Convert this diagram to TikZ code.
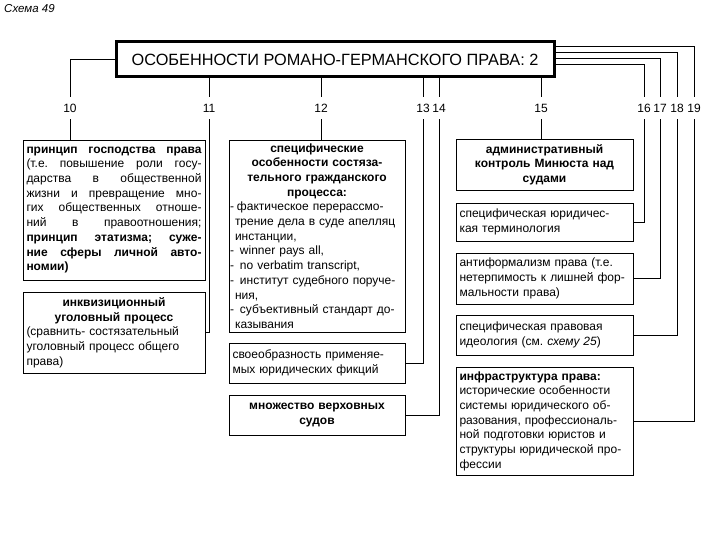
\documentclass[tikz,border=0pt]{standalone}
\usepackage{fontspec}
\setmainfont{Liberation Sans}
\frenchspacing
\begin{document}
\begin{tikzpicture}[x=1pt,y=-1pt,
  bx/.style={draw, line width=0.8pt, inner xsep=3.5pt, inner ysep=2pt,
    font=\fontsize{12}{14.7}\selectfont},
  lbl/.style={inner sep=0pt, minimum height=22pt, font=\fontsize{12}{13}\selectfont},
  ln/.style={line width=0.8pt}]
\useasboundingbox (0,0) rectangle (720,540);
\node[anchor=west, inner sep=0pt, font=\fontsize{11.5}{13}\selectfont\itshape] (cap) at (4,9) {Схема 49};
\node[draw, line width=3pt, minimum width=438pt, minimum height=35pt, inner sep=0pt,
  font=\fontsize{16.3}{18}\selectfont] (title) at (335,59.5) {ОСОБЕННОСТИ РОМАНО-ГЕРМАНСКОГО ПРАВА: 2};
% labels
\node[lbl] (l10) at (70,108) {10};
\node[lbl] (l11) at (209,108) {11};
\node[lbl] (l12) at (321,108) {12};
\node[lbl] (l13) at (423,108) {13};
\node[lbl] (l14) at (439,108) {14};
\node[lbl] (l15) at (541,108) {15};
\node[lbl] (l16) at (644,108) {16};
\node[lbl] (l17) at (660,108) {17};
\node[lbl] (l18) at (677,108) {18};
\node[lbl] (l19) at (694,108) {19};
% boxes
\node[bx, text width=175pt, minimum height=140pt, align=justify] (b10) at (114,210)
 {\textbf{принцип господства права}\linebreak (т.е. повышение роли госу-\linebreak дарства в общественной\linebreak жизни и превращение мно-\linebreak гих общественных отноше-\linebreak ний в правоотношения;\linebreak \textbf{принцип этатизма; суже-\linebreak ние сферы личной авто-\linebreak номии)}};
\node[bx, text width=175pt, minimum height=81pt, align=left] (b11) at (114,332.5)
 {{\centering\bfseries инквизиционный\\ уголовный процесс\par}(сравнить- состязательный\\ уголовный процесс общего\\ права)};
\node[bx, text width=174pt, inner xsep=1pt, minimum height=192pt, align=left] (b12) at (317,236)
 {{\centering\bfseries специфические\\ особенности состяза-\\ тельного гражданского\\ процесса:\par}%
 -\hspace{3pt}фактическое перерассмо-\\ \hspace*{5pt}трение дела в суде апелляц\\ \hspace*{5pt}инстанции,\\
 -\hspace{6pt}winner pays all,\\ -\hspace{6pt}no verbatim transcript,\\ -\hspace{6pt}институт судебного поруче-\\ \hspace*{5pt}ния,\\
 -\hspace{6pt}субъективный стандарт до-\\ \hspace*{5pt}казывания};
\node[bx, text width=169pt, minimum height=40pt, align=left] (b13) at (317,363)
 {своеобразность применяе-\\ мых юридических фикций};
\node[bx, text width=169pt, minimum height=40pt, align=center, font=\fontsize{12}{14.7}\selectfont\bfseries] (b14) at (317,415)
 {множество верховных\\ судов};
\node[bx, text width=170pt, minimum height=51pt, align=center, font=\fontsize{12}{14.7}\selectfont\bfseries] (b15) at (544.5,164.5)
 {административный\\ контроль Минюста над\\ судами};
\node[bx, text width=170pt, minimum height=38pt, align=left] (b16) at (544.5,222)
 {специфическая юридичес-\\ кая терминология};
\node[bx, text width=170pt, minimum height=51pt, align=left] (b17) at (544.5,278.5)
 {антиформализм права (т.е.\\ \mbox{нетерпимость к лишней фор-}\\ мальности права)};
\node[bx, text width=170pt, minimum height=40pt, align=left] (b18) at (544.5,335)
 {специфическая правовая\\ идеология (см. \textit{схему 25})};
\node[bx, text width=170pt, minimum height=108pt, align=left] (b19) at (544.5,421)
 {\textbf{инфраструктура права:}\\ исторические особенности\\ системы юридического об-\\ разования, профессиональ-\\ ной подготовки юристов и\\ \mbox{структуры юридической про-}\\ фессии};
% connectors
\draw[ln] (title.west) -| (l10.north);
\draw[ln] (l10.south) -- (b10.north -| l10.south);
\draw[ln] (title.south -| l11) -- (l11.north);
\draw[ln] (l11.south) |- (b11.east);
\draw[ln] (title.south -| l12) -- (l12.north);
\draw[ln] (l12.south) -- (b12.north -| l12.south);
\draw[ln] (title.south -| l13) -- (l13.north);
\draw[ln] (l13.south) |- (b13.east);
\draw[ln] (title.south -| l14) -- (l14.north);
\draw[ln] (l14.south) |- (b14.east);
\draw[ln] (title.south -| l15) -- (l15.north);
\draw[ln] (l15.south) -- (b15.north -| l15.south);
\draw[ln] ([yshift=-24pt]title.north east) -| (l16.north);
\draw[ln] (l16.south) |- (b16.east);
\draw[ln] ([yshift=-18pt]title.north east) -| (l17.north);
\draw[ln] (l17.south) |- (b17.east);
\draw[ln] ([yshift=-12pt]title.north east) -| (l18.north);
\draw[ln] (l18.south) |- (b18.east);
\draw[ln] ([yshift=-6pt]title.north east) -| (l19.north);
\draw[ln] (l19.south) |- (b19.east);
\end{tikzpicture}
\end{document}
